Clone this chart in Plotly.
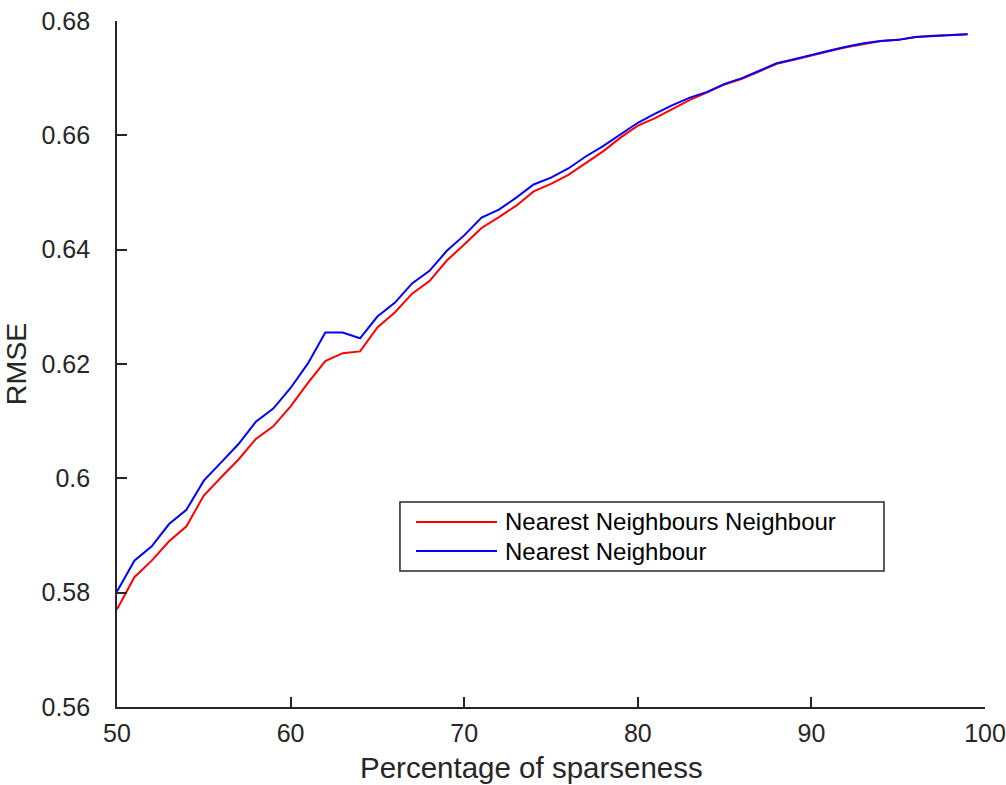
import plotly.graph_objects as go

# Sparseness percentage (x) and RMSE for the two neighbour strategies
sparseness = list(range(50, 100))

rmse_nn_neighbour = [
    0.5771, 0.5827, 0.5856, 0.5890, 0.5916, 0.5970, 0.6002, 0.6033, 0.6069, 0.6091,
    0.6126, 0.6167, 0.6205, 0.6219, 0.6222, 0.6264, 0.6290, 0.6323, 0.6345, 0.6381,
    0.6409, 0.6438, 0.6457, 0.6477, 0.6502, 0.6515, 0.6531, 0.6551, 0.6572, 0.6596,
    0.6617, 0.6630, 0.6646, 0.6662, 0.6675, 0.6689, 0.6699, 0.6712, 0.6725, 0.6732,
    0.6740, 0.6747, 0.6754, 0.6760, 0.6765, 0.6767, 0.6772, 0.6774, 0.6776, 0.6777,
]

rmse_nn = [
    0.5802, 0.5856, 0.5881, 0.5920, 0.5945, 0.5996, 0.6028, 0.6060, 0.6099, 0.6122,
    0.6158, 0.6201, 0.6255, 0.6255, 0.6245, 0.6283, 0.6307, 0.6341, 0.6363, 0.6398,
    0.6425, 0.6456, 0.6470, 0.6491, 0.6514, 0.6526, 0.6542, 0.6563, 0.6581, 0.6601,
    0.6622, 0.6638, 0.6653, 0.6666, 0.6676, 0.6690, 0.6700, 0.6713, 0.6726, 0.6733,
    0.6741, 0.6748, 0.6755, 0.6761, 0.6765, 0.6767, 0.6772, 0.6774, 0.6776, 0.6777,
]

series_names = ["Nearest Neighbours Neighbour", "Nearest Neighbour"]
series_colors = ["#ff0000", "#0000ff"]

x_ticks = [50, 60, 70, 80, 90, 100]
y_ticks = [0.56, 0.58, 0.60, 0.62, 0.64, 0.66, 0.68]
y_tick_text = ["0.56", "0.58", "0.6", "0.62", "0.64", "0.66", "0.68"]

FONT = "Liberation Sans, Arial, Helvetica, sans-serif"
INK = "#262626"

fig = go.Figure()
for name, values, color in zip(series_names, [rmse_nn_neighbour, rmse_nn], series_colors):
    fig.add_trace(go.Scatter(
        x=sparseness, y=values, mode="lines", name=name,
        line=dict(color=color, width=2), showlegend=False,
    ))

# Boxed legend in the lower middle of the axes
legend_x0, legend_x1 = 0.3260, 0.8836
legend_y0, legend_y1 = 0.1983, 0.2988
fig.add_shape(type="rect", xref="paper", yref="paper",
              x0=legend_x0, x1=legend_x1, y0=legend_y0, y1=legend_y1,
              line=dict(color=INK, width=1.5), fillcolor="white", layer="above")
for name, color, ly in zip(series_names, series_colors, [0.2697, 0.2274]):
    fig.add_shape(type="line", xref="paper", yref="paper",
                  x0=0.3445, x1=0.4378, y0=ly, y1=ly,
                  line=dict(color=color, width=2), layer="above")
    fig.add_annotation(xref="paper", yref="paper", x=0.4470, y=ly,
                       text=name, showarrow=False, xanchor="left", yanchor="middle",
                       xshift=-2, font=dict(family=FONT, size=24, color="#000000"))

# x-axis title placed as a free label below the tick labels
fig.add_annotation(xref="paper", yref="paper", x=0.478, y=-0.0889,
                   text="Percentage of sparseness", showarrow=False,
                   xanchor="center", yanchor="middle",
                   font=dict(family=FONT, size=29.5, color=INK))

axis_common = dict(
    showline=True, linecolor=INK, linewidth=1.6,
    ticks="inside", ticklen=10, tickwidth=1.6, tickcolor=INK,
    showgrid=False, zeroline=False, mirror=False, automargin=False,
    tickfont=dict(family=FONT, size=25, color=INK),
)

fig.update_layout(
    template="none",
    width=1006, height=785,
    margin=dict(l=117, r=21, t=21, b=78),
    paper_bgcolor="white", plot_bgcolor="white",
    xaxis=dict(range=[50, 100], tickvals=x_ticks, ticklabelstandoff=3,
               **axis_common),
    yaxis=dict(range=[0.56, 0.68], tickvals=y_ticks, ticktext=y_tick_text,
               ticklabelstandoff=20,
               title=dict(text="RMSE", standoff=10,
                          font=dict(family=FONT, size=28.5, color=INK)),
               **axis_common),
)

fig.write_html("out.html")
